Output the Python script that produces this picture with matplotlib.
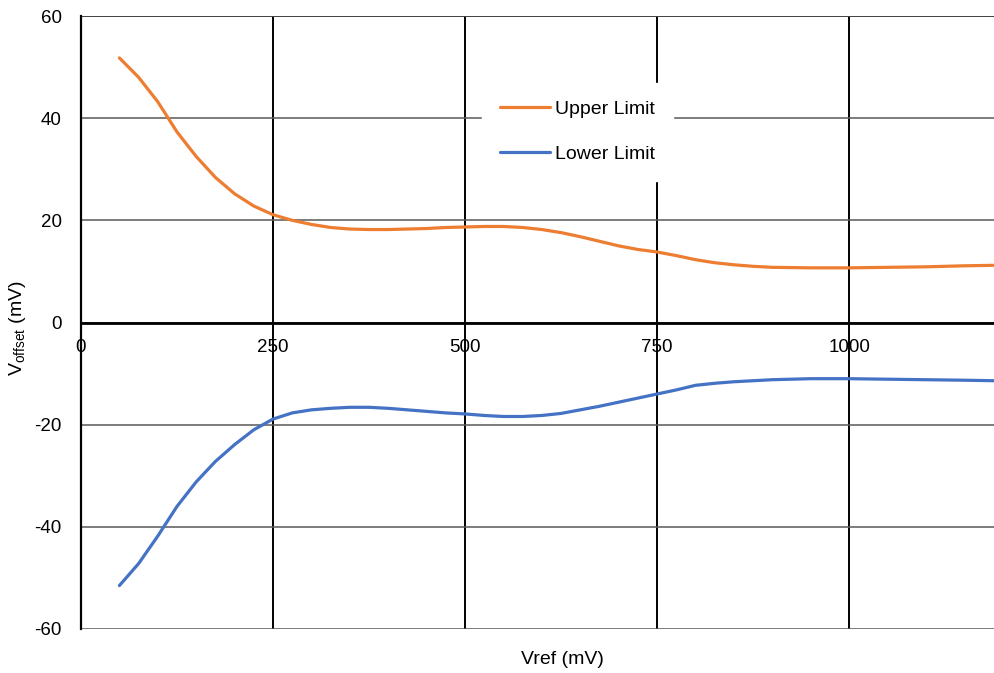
import matplotlib.pyplot as plt

plt.rcParams['font.family'] = ['Liberation Sans', 'DejaVu Sans']
plt.rcParams['axes.unicode_minus'] = False

# values
vref = [50, 75, 100, 125, 150, 175, 200, 225, 250, 275, 300, 325, 350, 375, 400, 425, 450, 475, 500,
        525, 550, 575, 600, 625, 650, 675, 700, 725, 750, 775, 800, 825, 850, 875, 900,
        950, 1000, 1050, 1100, 1150, 1190]
upper = [51.8, 48.0, 43.2, 37.3, 32.5, 28.4, 25.2, 22.8, 21.1, 20.0, 19.2, 18.6, 18.3, 18.2, 18.2, 18.3, 18.4, 18.6, 18.7,
         18.8, 18.8, 18.6, 18.2, 17.6, 16.8, 15.9, 15.0, 14.3, 13.8, 13.1, 12.3, 11.7, 11.3, 11.0, 10.8,
         10.7, 10.7, 10.8, 10.9, 11.1, 11.2]
lower = [-51.5, -47.2, -41.8, -36.0, -31.2, -27.2, -23.9, -21.0, -18.9, -17.7, -17.1, -16.8, -16.6, -16.6, -16.8, -17.1, -17.4, -17.7, -17.9,
         -18.2, -18.4, -18.4, -18.2, -17.8, -17.1, -16.4, -15.6, -14.8, -14.0, -13.2, -12.3, -11.9, -11.6, -11.4, -11.2,
         -11.0, -11.0, -11.1, -11.2, -11.3, -11.4]
xticks = [0, 250, 500, 750, 1000]
yticks = [-60, -40, -20, 0, 20, 40, 60]

fig = plt.figure(figsize=(9.95, 6.73), dpi=100)
ax = fig.add_axes([0.0814, 0.0654, 0.9186, 0.9108])

ax.plot(vref, upper, color='#ED7D31', lw=2.3, label='Upper Limit', zorder=3,
        solid_joinstyle='round', solid_capstyle='round')
ax.plot(vref, lower, color='#4472C4', lw=2.3, label='Lower Limit', zorder=3,
        solid_joinstyle='round', solid_capstyle='round')

ax.set_xlim(0, 1190)
ax.set_ylim(-60, 60)
ax.set_xticks(xticks)
ax.set_yticks(yticks)
ax.tick_params(length=0, labelsize=13.5)
ax.tick_params(axis='y', pad=14)
ax.tick_params(axis='x', pad=12)

ax.grid(axis='y', color='#595959', lw=1.1, zorder=1)
ax.grid(axis='x', color='black', lw=1.4, zorder=1)

for s in ['right', 'top']:
    ax.spines[s].set_visible(False)
ax.spines['bottom'].set_position(('data', 0))
ax.spines['bottom'].set_linewidth(2)
ax.spines['left'].set_linewidth(1.6)
ax.axhline(60, color='black', lw=1.4, zorder=1)

ax.set_xlabel('Vref (mV)', fontsize=14)
ax.xaxis.set_label_coords(0.527, -0.036)
ax.set_ylabel(r'V$_{\mathregular{offset}}$ (mV)', fontsize=14)
ax.yaxis.set_label_coords(-0.058, 0.49)

leg = ax.legend(loc='center', bbox_to_anchor=(0.543, 0.811), fontsize=14,
                frameon=True, fancybox=False, framealpha=1, edgecolor='white',
                handlelength=2.6, handletextpad=0.25, labelspacing=1.4,
                borderpad=0.9, borderaxespad=0)
leg.set_zorder(5)

fig.savefig('out.png', dpi=100)
